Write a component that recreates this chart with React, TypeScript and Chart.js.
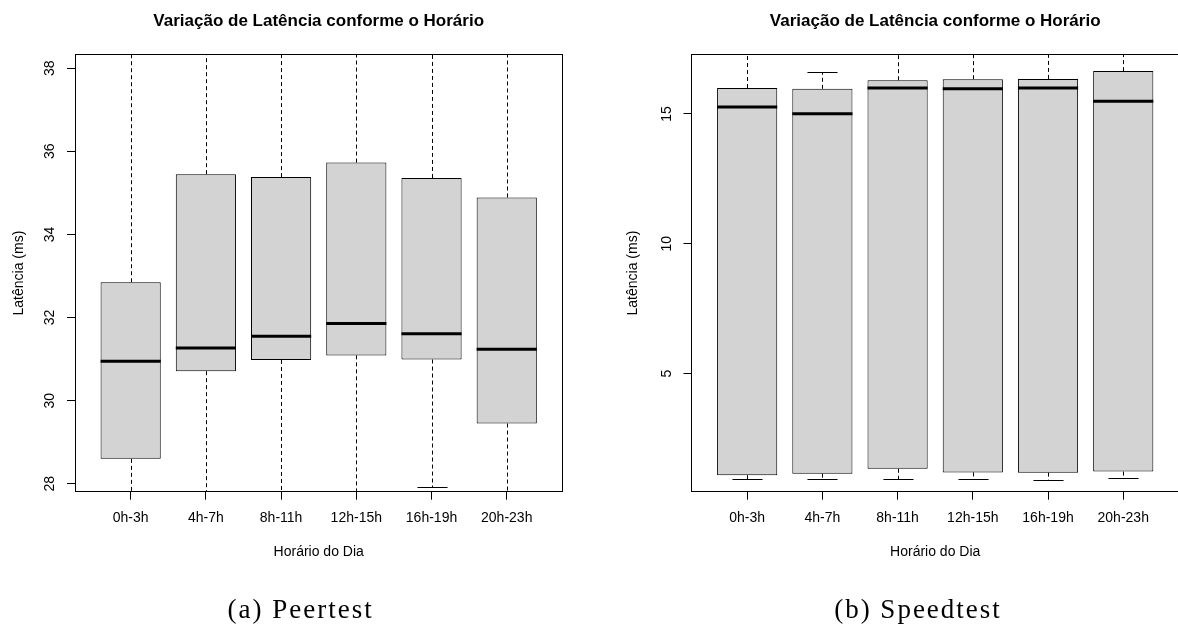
import React, { useEffect, useRef } from 'react';
import { Chart, registerables } from 'chart.js';

Chart.register(...registerables);

// ---------- data ----------
const categories = ['0h-3h', '4h-7h', '8h-11h', '12h-15h', '16h-19h', '20h-23h'];
const chartTitle = 'Variação de Latência conforme o Horário';
const xAxisTitle = 'Horário do Dia';
const yAxisTitle = 'Latência (ms)';

// (a) Peertest
const peerLowerWhisker = [26.1, 26.4, 26.9, 27.2, 27.93, 25.0];
const peerQ1 = [28.6, 30.71, 30.98, 31.09, 30.99, 29.45];
const peerMedian = [30.95, 31.27, 31.55, 31.86, 31.61, 31.24];
const peerQ3 = [32.85, 35.45, 35.38, 35.73, 35.36, 34.89];
const peerUpperWhisker = [39.2, 40.8, 40.5, 40.6, 40.1, 39.8];
const peerYTicks = [28, 30, 32, 34, 36, 38];

// (b) Speedtest
const speedLowerWhisker = [0.95, 0.95, 0.96, 0.93, 0.91, 0.97];
const speedQ1 = [1.09, 1.15, 1.34, 1.2, 1.19, 1.23];
const speedMedian = [15.27, 15.01, 16.0, 15.97, 16.0, 15.49];
const speedQ3 = [16.0, 15.97, 16.3, 16.34, 16.35, 16.65];
const speedUpperWhisker = [18.5, 16.63, 18.9, 19.0, 19.2, 18.8];
const speedYTicks = [5, 10, 15];

const captionA = '(a) Peertest';
const captionB = '(b) Speedtest';

// ---------- styling ----------
const SANS = "'Liberation Sans', Arial, Helvetica, sans-serif";
const SERIF = "'Liberation Serif', 'Times New Roman', serif";
const H = 626;

type PanelSpec = {
  low: number[];
  q1: number[];
  med: number[];
  q3: number[];
  high: number[];
  yTicks: number[];
  yMin: number;
  yMax: number;
  yAxisWidth: number;
  padRight: number;
  yTitlePad: number;
  yTickPad: number;
};

function boxExtras(p: PanelSpec) {
  return {
    id: 'rBoxExtras',
    beforeDatasetsDraw(chart: any) {
      const { ctx, chartArea: a, scales } = chart;
      const xs = scales.x;
      const ys = scales.y;
      const meta = chart.getDatasetMeta(0);
      ctx.save();
      ctx.beginPath();
      ctx.rect(a.left, a.top, a.right - a.left, a.bottom - a.top);
      ctx.clip();
      ctx.strokeStyle = '#000';
      ctx.lineWidth = 1;
      categories.forEach((_, i) => {
        const cx = Math.round(xs.getPixelForValue(i + 1)) + 0.5;
        const half = (meta.data[i] ? meta.data[i].width : 60) / 2;
        const yq1 = ys.getPixelForValue(p.q1[i]);
        const yq3 = ys.getPixelForValue(p.q3[i]);
        const yl = Math.round(ys.getPixelForValue(p.low[i])) + 0.5;
        const yh = Math.round(ys.getPixelForValue(p.high[i])) + 0.5;
        ctx.setLineDash([4, 3]);
        ctx.beginPath();
        ctx.moveTo(cx, yq3);
        ctx.lineTo(cx, yh);
        ctx.moveTo(cx, yq1);
        ctx.lineTo(cx, yl);
        ctx.stroke();
        ctx.setLineDash([]);
        ctx.beginPath();
        ctx.moveTo(cx - half / 2, yh);
        ctx.lineTo(cx + half / 2, yh);
        ctx.moveTo(cx - half / 2, yl);
        ctx.lineTo(cx + half / 2, yl);
        ctx.stroke();
      });
      ctx.restore();
    },
    afterDatasetsDraw(chart: any) {
      const { ctx, chartArea: a, scales } = chart;
      const xs = scales.x;
      const ys = scales.y;
      const meta = chart.getDatasetMeta(0);
      ctx.save();
      ctx.strokeStyle = '#000';
      ctx.lineWidth = 3;
      ctx.lineCap = 'butt';
      categories.forEach((_, i) => {
        const cx = xs.getPixelForValue(i + 1);
        const half = (meta.data[i] ? meta.data[i].width : 60) / 2;
        const ym = ys.getPixelForValue(p.med[i]);
        ctx.beginPath();
        ctx.moveTo(cx - half, ym);
        ctx.lineTo(cx + half, ym);
        ctx.stroke();
      });
      ctx.lineWidth = 1;
      const l = Math.floor(a.left) + 0.5;
      const t = Math.floor(a.top) + 0.5;
      const r = Math.floor(a.right) + 0.5;
      const b = Math.floor(a.bottom) + 0.5;
      ctx.strokeRect(l, t, r - l, b - t);
      ctx.restore();
    },
  };
}

function makeConfig(p: PanelSpec): any {
  const tickFont = { family: SANS, size: 14 };
  return {
    type: 'bar',
    data: {
      datasets: [
        {
          data: categories.map((_, i) => ({ x: i + 1, y: [p.q1[i], p.q3[i]] })),
          backgroundColor: '#D3D3D3',
          borderColor: '#000',
          borderWidth: 1,
          borderSkipped: false,
          barPercentage: 0.8,
          categoryPercentage: 1,
        },
      ],
    },
    options: {
      responsive: false,
      maintainAspectRatio: false,
      animation: false,
      events: [],
      layout: { padding: { left: 0, right: p.padRight, top: 0, bottom: 0 } },
      plugins: {
        legend: { display: false },
        tooltip: { enabled: false },
        title: {
          display: true,
          text: chartTitle,
          fullSize: false,
          color: '#000',
          font: { family: SANS, size: 17, weight: 'bold', lineHeight: 1.2 },
          padding: { top: 10.8, bottom: 23.3 },
        },
      },
      scales: {
        x: {
          type: 'linear',
          min: 0.26,
          max: 6.74,
          offset: false,
          afterBuildTicks: (s: any) => {
            s.ticks = categories.map((_, i) => ({ value: i + 1 }));
          },
          afterFit: (s: any) => {
            s.height = 134.3;
          },
          ticks: {
            callback: (v: any) => categories[Number(v) - 1],
            font: tickFont,
            color: '#000',
            padding: 9.6,
            minRotation: 0,
            maxRotation: 0,
            autoSkip: false,
          },
          grid: {
            offset: false,
            drawOnChartArea: false,
            drawTicks: true,
            tickLength: 8,
            color: '#000',
            lineWidth: 1,
          },
          border: { display: false },
          title: {
            display: true,
            text: xAxisTitle,
            color: '#000',
            font: tickFont,
            padding: { top: 0, bottom: 65.9 },
          },
        },
        y: {
          type: 'linear',
          min: p.yMin,
          max: p.yMax,
          afterBuildTicks: (s: any) => {
            s.ticks = p.yTicks.map((v) => ({ value: v }));
          },
          afterFit: (s: any) => {
            s.width = p.yAxisWidth;
          },
          ticks: {
            font: tickFont,
            color: '#000',
            minRotation: 90,
            maxRotation: 90,
            crossAlign: 'center',
            padding: p.yTickPad,
          },
          grid: { drawOnChartArea: false, drawTicks: true, tickLength: 8, color: '#000', lineWidth: 1 },
          border: { display: false },
          title: {
            display: true,
            text: yAxisTitle,
            color: '#000',
            font: tickFont,
            padding: { top: p.yTitlePad, bottom: 0 },
          },
        },
      },
    },
    plugins: [boxExtras(p)],
  };
}

const peerSpec: PanelSpec = {
  low: peerLowerWhisker,
  q1: peerQ1,
  med: peerMedian,
  q3: peerQ3,
  high: peerUpperWhisker,
  yTicks: peerYTicks,
  yMin: 27.81,
  yMax: 38.33,
  yAxisWidth: 75,
  padRight: 26.6,
  yTitlePad: 11.1,
  yTickPad: 9.2,
};

const speedSpec: PanelSpec = {
  low: speedLowerWhisker,
  q1: speedQ1,
  med: speedMedian,
  q3: speedQ3,
  high: speedUpperWhisker,
  yTicks: speedYTicks,
  yMin: 0.456,
  yMax: 17.29,
  yAxisWidth: 102.5,
  padRight: 10.1,
  yTitlePad: 35.6,
  yTickPad: 8.2,
};

function Panel({ left, width, spec }: { left: number; width: number; spec: PanelSpec }) {
  const ref = useRef<HTMLCanvasElement>(null);
  useEffect(() => {
    const chart = new Chart(ref.current as HTMLCanvasElement, makeConfig(spec));
    return () => chart.destroy();
  }, []);
  return (
    <canvas
      ref={ref}
      width={width}
      height={H}
      style={{ position: 'absolute', left, top: 0, width, height: H, display: 'block' }}
    />
  );
}

function Caption({ center, text }: { center: number; text: string }) {
  return (
    <div
      style={{
        position: 'absolute',
        left: center - 150,
        width: 300,
        top: 596.4,
        textAlign: 'center',
        fontFamily: SERIF,
        fontSize: 27,
        lineHeight: '27px',
        letterSpacing: '2px',
        color: '#000',
        whiteSpace: 'nowrap',
      }}
    >
      {text}
    </div>
  );
}

export default function App() {
  return (
    <div
      style={{
        position: 'fixed',
        left: 0,
        top: 0,
        width: 1178,
        height: H,
        overflow: 'hidden',
        background: '#fff',
      }}
    >
      <Panel left={0} width={589} spec={peerSpec} />
      <Panel left={589} width={600} spec={speedSpec} />
      <Caption center={300.6} text={captionA} />
      <Caption center={918} text={captionB} />
    </div>
  );
}
